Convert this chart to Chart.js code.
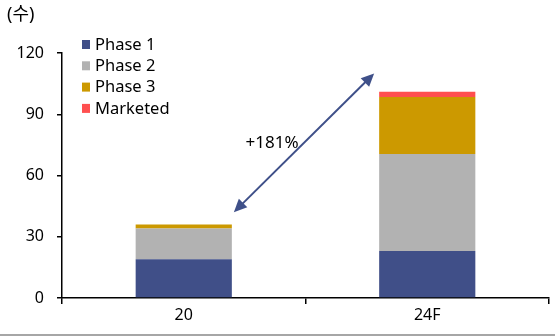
<!DOCTYPE html>
<html>
<head>
<meta charset="utf-8">
<script src="https://cdn.jsdelivr.net/npm/chart.js@4/dist/chart.umd.min.js"></script>
<style>
  html, body { margin: 0; padding: 0; background: #fff; }
  #wrap { width: 555px; height: 336px; position: relative; }
</style>
</head>
<body>
<div id="wrap"><canvas id="chart"></canvas></div>
<script>
// ---- data ----
const categories = ['20', '24F'];
const phase1 = [19, 23];
const phase2 = [15, 47.5];
const phase3 = [2, 28];
const marketed = [0, 2.5];
const yTicks = [0, 30, 60, 90, 120];
const unitLabel = '(수)';
const growthLabel = '+181%';
// arrow ends: [category index, value]
const arrowFrom = [0, 42];
const arrowTo = [1, 110];

const FONT = '"Noto Sans", "Noto Sans CJK KR", sans-serif';
const ARROW_COLOR = '#3F5089';

const series = [
  { label: 'Phase 1', data: phase1, color: '#404F88' },
  { label: 'Phase 2', data: phase2, color: '#B2B2B2' },
  { label: 'Phase 3', data: phase3, color: '#CC9900' },
  { label: 'Marketed', data: marketed, color: '#FF4F4F' }
];

function arrowHead(ctx, x1, y1, x2, y2) {
  const a = Math.atan2(y2 - y1, x2 - x1);
  const len = 13, w = 6;
  ctx.beginPath();
  ctx.moveTo(x2, y2);
  ctx.lineTo(x2 - len * Math.cos(a) + w * Math.sin(a), y2 - len * Math.sin(a) - w * Math.cos(a));
  ctx.lineTo(x2 - len * Math.cos(a) - w * Math.sin(a), y2 - len * Math.sin(a) + w * Math.cos(a));
  ctx.closePath();
  ctx.fill();
}

const extras = {
  id: 'extras',
  afterDraw(chart) {
    const ctx = chart.ctx;
    const x = chart.scales.x, y = chart.scales.y;
    ctx.save();

    // unit label
    ctx.fillStyle = '#000';
    ctx.font = '18px ' + FONT;
    ctx.textAlign = 'left';
    ctx.textBaseline = 'middle';
    ctx.fillText(unitLabel, 7, 15);

    // legend
    series.forEach((s, i) => {
      const cy = 44 + i * 21.3;
      ctx.fillStyle = s.color;
      ctx.fillRect(82, cy - 4, 8, 9);
      ctx.fillStyle = '#000';
      ctx.font = '16.5px ' + FONT;
      ctx.fillText(s.label, 95, cy + 1);
    });

    // growth arrow between bars
    const bars0 = chart.getDatasetMeta(0).data;
    const half = bars0[0].width / 2;
    const x1 = x.getPixelForValue(arrowFrom[0]) + half + 2;
    const y1 = y.getPixelForValue(arrowFrom[1]);
    const x2 = x.getPixelForValue(arrowTo[0]) - half - 5;
    const y2 = y.getPixelForValue(arrowTo[1]);
    ctx.strokeStyle = ARROW_COLOR;
    ctx.fillStyle = ARROW_COLOR;
    ctx.lineWidth = 2;
    const a = Math.atan2(y2 - y1, x2 - x1);
    ctx.beginPath();
    ctx.moveTo(x1 + 8 * Math.cos(a), y1 + 8 * Math.sin(a));
    ctx.lineTo(x2 - 8 * Math.cos(a), y2 - 8 * Math.sin(a));
    ctx.stroke();
    arrowHead(ctx, x2, y2, x1, y1);
    arrowHead(ctx, x1, y1, x2, y2);

    ctx.fillStyle = '#000';
    ctx.font = '17px ' + FONT;
    ctx.textAlign = 'center';
    ctx.fillText(growthLabel, (x1 + x2) / 2 - 32, (y1 + y2) / 2);

    // bottom border
    ctx.strokeStyle = '#A6A6A6';
    ctx.lineWidth = 2;
    ctx.beginPath();
    ctx.moveTo(0, 335);
    ctx.lineTo(555, 335);
    ctx.stroke();
    ctx.restore();
  }
};

new Chart(document.getElementById('chart'), {
  type: 'bar',
  data: {
    labels: categories,
    datasets: series.map(s => ({
      label: s.label,
      data: s.data,
      backgroundColor: s.color,
      borderWidth: 0,
      barPercentage: 1,
      categoryPercentage: 0.395
    }))
  },
  options: {
    responsive: true,
    maintainAspectRatio: false,
    animation: false,
    layout: { padding: { top: 53, right: 6, left: 0, bottom: 0 } },
    plugins: {
      legend: { display: false },
      tooltip: { enabled: false }
    },
    scales: {
      x: {
        stacked: true,
        border: { color: '#000', width: 1.5 },
        grid: { drawOnChartArea: false, drawTicks: true, tickLength: 6, color: '#000', lineWidth: 1.5 },
        ticks: { color: '#000', font: { family: FONT, size: 16 }, padding: 2 },
        afterFit(scale) { scale.height = 38; }
      },
      y: {
        stacked: true,
        min: 0,
        max: 120,
        afterBuildTicks(scale) { scale.ticks = yTicks.map(v => ({ value: v })); },
        border: { color: '#000', width: 1.5 },
        grid: { drawOnChartArea: false, drawTicks: true, tickLength: 5, color: '#000', lineWidth: 1.5 },
        ticks: { color: '#000', font: { family: FONT, size: 16 }, padding: 13 },
        afterFit(scale) { scale.width = 62; }
      }
    }
  },
  plugins: [extras]
});
</script>
</body>
</html>
